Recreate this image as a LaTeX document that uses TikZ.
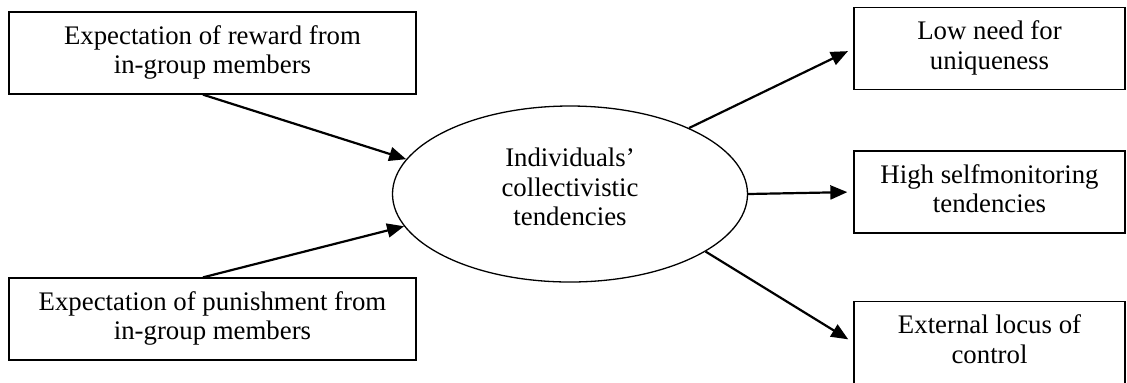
\documentclass[tikz,border=0pt]{standalone}
\usepackage{fontspec}
\setmainfont{Liberation Serif}
\usetikzlibrary{shapes.geometric,arrows.meta,calc}
\begin{document}
\begin{tikzpicture}[x=0.5pt,y=-0.5pt,
  every node/.style={font=\fontsize{13.4}{14.8}\selectfont, align=center, inner sep=0pt},
  bx/.style={draw, line width=0.65pt, minimum height=41pt},
  lbx/.style={bx, minimum width=203.5pt},
  rbx/.style={bx, minimum width=135.5pt},
  ell/.style={draw, ellipse, line width=0.65pt, minimum width=177.5pt, minimum height=88pt},
  arr/.style={line width=1.1pt, -{Triangle[length=8.5pt,width=7pt]}}]
\useasboundingbox (0,0) rectangle (1127,382);
\node[lbx] (tl) at (212.5,53) {\raisebox{-1.5pt}{\begin{tabular}{@{}c@{}}Expectation of reward from\\in-group members\end{tabular}}};
\node[lbx] (bl) at (212.5,319) {\raisebox{-1.5pt}{\begin{tabular}{@{}c@{}}Expectation of punishment from\\in-group members\end{tabular}}};
\node[ell] (c) at (570,194) {};
\node (ct) at (570,187) {Individuals'\\collectivistic\\tendencies};
\node[rbx] (tr) at (989.5,48.5) {\raisebox{-1.2pt}{\begin{tabular}{@{}c@{}}Low need for\\uniqueness\end{tabular}}};
\node[rbx] (mr) at (989.5,192) {\raisebox{-1.2pt}{\begin{tabular}{@{}c@{}}High selfmonitoring\\tendencies\end{tabular}}};
\node[rbx] (br) at (989.5,342.5) {\raisebox{-1.2pt}{\begin{tabular}{@{}c@{}}External locus of\\control\end{tabular}}};
\draw[arr] ($(tl.south)+(-9.5,0)$) -- (c.168.5);
\draw[arr] ($(bl.north)+(-9.5,0)$) -- (c.191.2);
\draw[arr, shorten >=3pt] (c.29.9) -- (tr.west);
\draw[arr, shorten >=3pt] (c.east) -- (mr.west);
\draw[arr, shorten >=3pt] (c.-23.2) -- (br.west);
\end{tikzpicture}
\end{document}
